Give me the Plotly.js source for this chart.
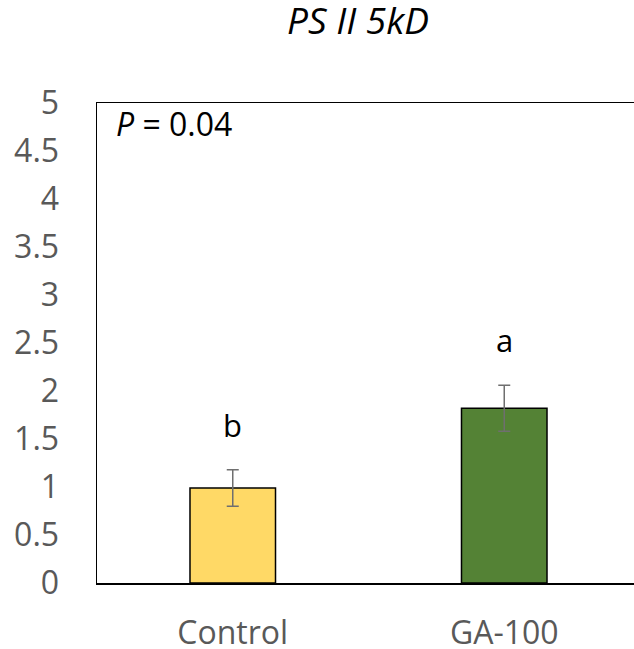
<!DOCTYPE html>
<html>
<head>
<meta charset="utf-8">
<script src="https://cdn.plot.ly/plotly-3.0.1.min.js"></script>
<style>
  html, body { margin: 0; padding: 0; background: #fff; overflow: hidden; }
  #chart { width: 660px; height: 649px; }
</style>
</head>
<body>
<div id="chart"></div>
<script>
// Relative abundance of PS II 5kD per treatment
const categories = ['Control', 'GA-100'];
const means = [0.99, 1.82];
const errors = [0.19, 0.24];
const letters = ['b', 'a'];
const barColors = ['#FFD966', '#548235'];
const yTicks = [0, 0.5, 1, 1.5, 2, 2.5, 3, 3.5, 4, 4.5, 5];

const FONT = '"Open Sans", Lato, sans-serif';

const bars = {
  type: 'bar',
  x: categories,
  y: means,
  marker: { color: barColors, line: { color: '#000', width: 1.5 } },
  width: 0.315,
  error_y: {
    type: 'data',
    array: errors,
    visible: true,
    color: '#6f6f6f',
    thickness: 1.5,
    width: 6
  },
  hoverinfo: 'skip'
};

// significance letters sit above each error bar
const letterNotes = categories.map((c, i) => ({
  x: c,
  y: means[i] + errors[i],
  xref: 'x',
  yref: 'y',
  text: letters[i],
  showarrow: false,
  yanchor: 'middle',
  yshift: 45,
  font: { family: FONT, size: 31, color: '#000' }
}));

const layout = {
  width: 660,
  height: 649,
  margin: { l: 97, r: 20, t: 103, b: 66 },
  paper_bgcolor: '#fff',
  plot_bgcolor: '#fff',
  showlegend: false,
  bargap: 0.685,
  title: {
    text: '<i>PS II 5kD</i>',
    font: { family: FONT, size: 37, color: '#000' },
    x: 358 / 660,
    xanchor: 'center',
    xref: 'container',
    y: 1 - 21 / 649,
    yanchor: 'middle',
    yref: 'container'
  },
  xaxis: {
    type: 'category',
    range: [-0.5, 1.5],
    showline: true,
    mirror: true,
    linecolor: '#000',
    linewidth: 1.5,
    ticks: '',
    ticklabelstandoff: 21,
    tickfont: { family: FONT, size: 32, color: '#595959' },
    showgrid: false,
    zeroline: false,
    fixedrange: true
  },
  yaxis: {
    range: [0, 5],
    tickvals: yTicks,
    ticktext: yTicks.map(String),
    showline: true,
    mirror: true,
    linecolor: '#000',
    linewidth: 1.5,
    ticks: '',
    ticklabelstandoff: 30,
    tickfont: { family: FONT, size: 32, color: '#595959' },
    showgrid: false,
    zeroline: false,
    fixedrange: true
  },
  annotations: [
    ...letterNotes,
    {
      x: 0, y: 1,
      xref: 'paper', yref: 'paper',
      xanchor: 'left', yanchor: 'middle',
      xshift: 17, yshift: -20,
      text: '<i>P</i> = 0.04',
      showarrow: false,
      font: { family: FONT, size: 32, color: '#000' }
    }
  ]
};

Plotly.newPlot('chart', [bars], layout, { displayModeBar: false, staticPlot: true });
</script>
</body>
</html>
